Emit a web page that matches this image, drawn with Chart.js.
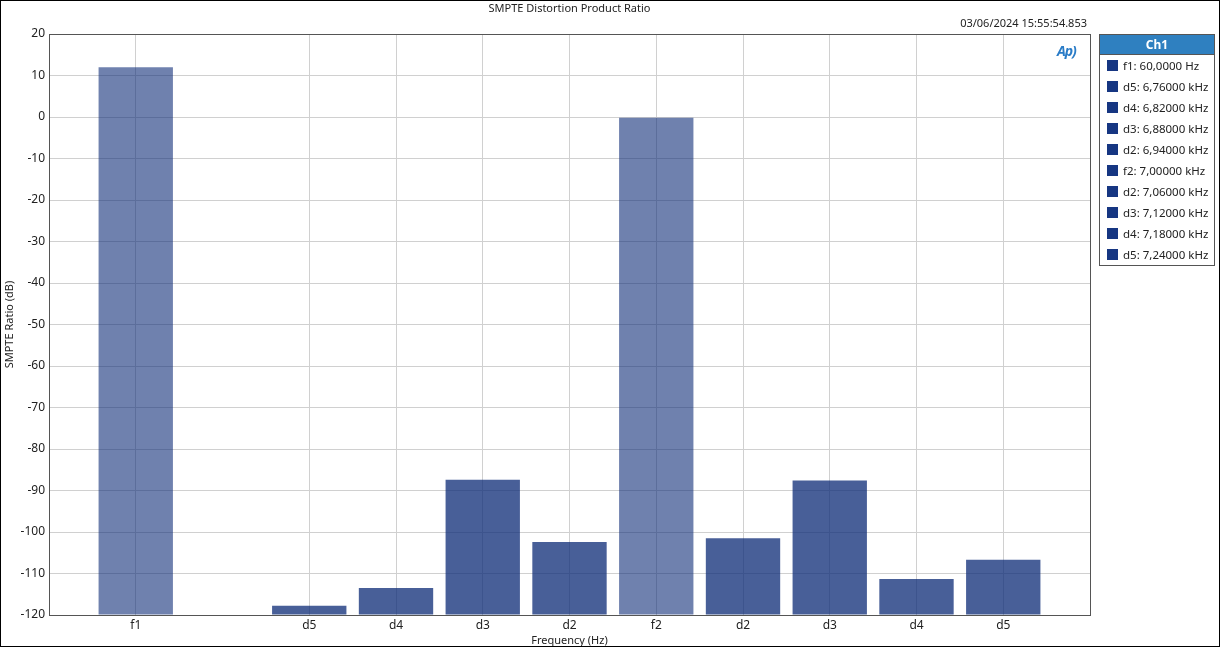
<!DOCTYPE html>
<html>
<head>
<meta charset="utf-8">
<script src="https://cdn.jsdelivr.net/npm/chart.js@4.4.1/dist/chart.umd.min.js"></script>
<style>
  html,body{margin:0;padding:0;background:#fff;}
  #wrap{position:relative;width:1220px;height:647px;box-sizing:border-box;border:1px solid #000;overflow:hidden;font-family:"Noto Sans","Open Sans",sans-serif;}
  #c{position:absolute;left:-1px;top:-1px;}
  #title{position:absolute;left:0;width:1137px;top:-1px;text-align:center;font-size:11px;color:#222;}
  #stamp{position:absolute;right:132px;top:14px;font-size:11px;color:#222;}
  #logo{position:absolute;left:1056px;top:40px;font-size:14px;font-weight:bold;font-style:italic;color:#2a7cc7;letter-spacing:-1px;}
  #legend{position:absolute;left:1098px;top:33px;width:116px;border:1px solid #555;background:#fff;box-sizing:border-box;}
  #legend .hd{background:#2f80c0;color:#fff;font-weight:bold;font-size:12px;text-align:center;height:19px;line-height:19px;border-bottom:1px solid #555;}
  #legend .it{height:21px;line-height:21px;font-size:11.5px;color:#222;white-space:nowrap;padding-left:7px;}
  #legend .sw{display:inline-block;width:11px;height:11px;background:#163682;vertical-align:-1px;margin-right:5px;}
</style>
</head>
<body>
<div id="wrap">
  <canvas id="c" width="1220" height="647"></canvas>
  <div id="title">SMPTE Distortion Product Ratio</div>
  <div id="stamp">03/06/2024 15:55:54.853</div>
  <div id="logo">Ap)</div>
  <div id="legend"><div class="hd">Ch1</div><div id="items"></div></div>
</div>
<script>
const categories = ['', 'f1', '', 'd5', 'd4', 'd3', 'd2', 'f2', 'd2', 'd3', 'd4', 'd5', ''];
const ratioDb   = [null, 12.0, null, -117.8, -113.5, -87.4, -102.4, -0.2, -101.5, -87.6, -111.3, -106.7, null];
const yTicks = [20, 10, 0, -10, -20, -30, -40, -50, -60, -70, -80, -90, -100, -110, -120];
const legendLabels = ['f1: 60,0000 Hz','d5: 6,76000 kHz','d4: 6,82000 kHz','d3: 6,88000 kHz','d2: 6,94000 kHz','f2: 7,00000 kHz','d2: 7,06000 kHz','d3: 7,12000 kHz','d4: 7,18000 kHz','d5: 7,24000 kHz'];

const items = document.getElementById('items');
legendLabels.forEach(t => {
  const d = document.createElement('div');
  d.className = 'it';
  d.innerHTML = '<span class="sw"></span>' + t;
  items.appendChild(d);
});

const FONT = '"Noto Sans","Open Sans",sans-serif';
const barColor = categories.map(c => c.startsWith('f') ? 'rgba(15,45,120,0.60)' : 'rgba(15,45,120,0.76)');

new Chart(document.getElementById('c'), {
  type: 'bar',
  data: {
    labels: categories,
    datasets: [{
      data: ratioDb,
      base: -120,
      backgroundColor: barColor,
      borderWidth: 0,
      barPercentage: 0.857,
      categoryPercentage: 1.0
    }]
  },
  options: {
    responsive: false,
    animation: false,
    devicePixelRatio: 1,
    layout: { padding: { left: 0, right: 130, top: 34, bottom: 0 } },
    plugins: { legend: { display: false }, tooltip: { enabled: false }, title: { display: false } },
    scales: {
      x: {
        type: 'category',
        offset: false,
        grid: {
          offset: false,
          drawTicks: false,
          color: ctx => (ctx.tick && categories[ctx.tick.value] !== '') ? '#d0d0d0' : 'rgba(0,0,0,0)'
        },
        border: { display: true, color: '#555', width: 1 },
        ticks: { autoSkip: false, maxRotation: 0, padding: 3, color: '#222', font: { family: FONT, size: 12 } },
        title: { display: true, text: 'Frequency (Hz)', color: '#222', font: { family: FONT, size: 11 }, padding: { top: 0, bottom: 0 } },
        afterFit: s => { s.height = 32; }
      },
      y: {
        min: -120, max: 20,
        afterBuildTicks: s => { s.ticks = yTicks.map(v => ({ value: v })); },
        grid: { color: '#d0d0d0', drawTicks: false },
        border: { display: true, color: '#555', width: 1 },
        ticks: { padding: 4, color: '#222', font: { family: FONT, size: 12 } },
        title: { display: true, text: 'SMPTE Ratio (dB)', color: '#222', font: { family: FONT, size: 11 }, padding: { top: 3, bottom: 0 } },
        afterFit: s => { s.width = 49; }
      }
    }
  },
  plugins: [{
    id: 'frame',
    afterDraw(chart) {
      const { ctx, chartArea: a } = chart;
      ctx.save();
      ctx.strokeStyle = '#555';
      ctx.lineWidth = 1;
      ctx.strokeRect(Math.round(a.left) + 0.5, Math.round(a.top) + 0.5, Math.round(a.right - a.left), Math.round(a.bottom - a.top));
      ctx.restore();
    }
  }]
});
</script>
</body>
</html>
